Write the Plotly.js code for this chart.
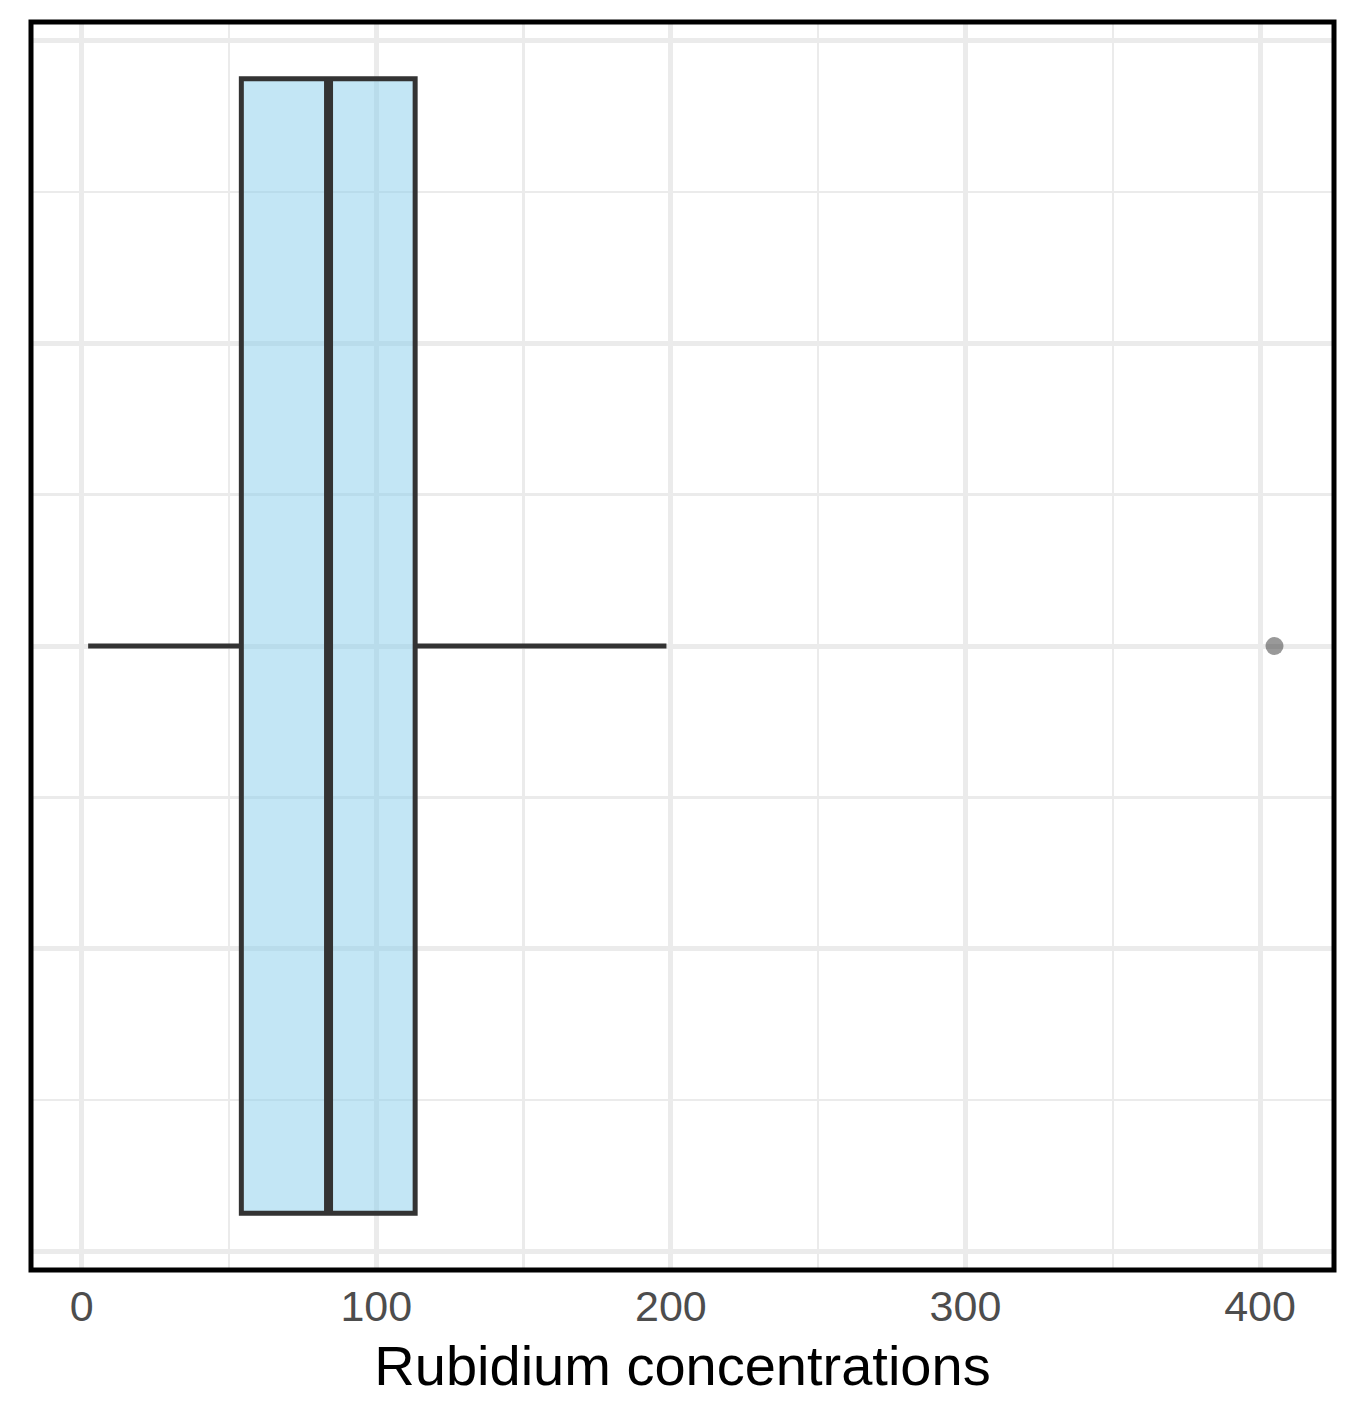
<!DOCTYPE html>
<html>
<head>
<meta charset="utf-8">
<script src="https://cdn.plot.ly/plotly-3.0.1.min.js"></script>
<style>
  html, body { margin: 0; padding: 0; background: #ffffff; }
  #chart { width: 1350px; height: 1402px; }
</style>
</head>
<body>
<div id="chart"></div>
<script>
// Summary statistics (Rubidium concentrations)
const groupPosition = [0];
const lowerWhisker = [2.2];
const q1Values = [54.2];
const medianValues = [83.8];
const q3Values = [113.2];
const upperWhisker = [198.5];
const outlierValues = [404.9];
const xTickValues = [0, 100, 200, 300, 400];
const xTickLabels = ["0", "100", "200", "300", "400"];
const boxWidth = 0.75;

const boxTrace = {
  type: 'box',
  orientation: 'h',
  y: groupPosition,
  q1: q1Values,
  median: medianValues,
  q3: q3Values,
  lowerfence: lowerWhisker,
  upperfence: upperWhisker,
  width: boxWidth,
  boxpoints: false,
  whiskerwidth: 0,
  fillcolor: 'rgba(135,206,235,0.5)',
  line: { color: '#333333', width: 5 },
  hoverinfo: 'skip',
  showlegend: false
};

const medianTrace = {
  type: 'scatter',
  mode: 'lines',
  x: [medianValues[0], medianValues[0]],
  y: [groupPosition[0] - boxWidth / 2, groupPosition[0] + boxWidth / 2],
  line: { color: '#333333', width: 9 },
  hoverinfo: 'skip',
  showlegend: false
};

const outlierTrace = {
  type: 'scatter',
  mode: 'markers',
  x: outlierValues,
  y: outlierValues.map(() => groupPosition[0]),
  marker: { color: 'rgba(51,51,51,0.5)', size: 18, line: { width: 0 } },
  hoverinfo: 'skip',
  showlegend: false
};

const layout = {
  width: 1350,
  height: 1402,
  margin: { l: 31, r: 16, t: 22, b: 132, pad: 0 },
  paper_bgcolor: '#ffffff',
  plot_bgcolor: '#ffffff',
  font: { family: 'Liberation Sans, Arial, sans-serif' },
  xaxis: {
    type: 'linear',
    range: [-17.2, 425.1],
    tickmode: 'array',
    tickvals: xTickValues,
    ticktext: xTickLabels,
    ticks: '',
    ticklabelstandoff: 7,
    showgrid: true,
    gridcolor: '#ebebeb',
    gridwidth: 5,
    zeroline: false,
    showline: false,
    tickfont: { size: 43, color: '#4d4d4d' },
    minor: { dtick: 50, tick0: 0, showgrid: true, gridcolor: '#ebebeb', gridwidth: 2.5, ticks: '' },
    title: { text: 'Rubidium concentrations', font: { size: 56, color: '#000000' }, standoff: 16 }
  },
  yaxis: {
    type: 'linear',
    range: [-0.4125, 0.4125],
    dtick: 0.2,
    tick0: 0,
    showticklabels: false,
    ticks: '',
    showgrid: true,
    gridcolor: '#ebebeb',
    gridwidth: 5,
    zeroline: false,
    showline: false,
    minor: { dtick: 0.1, tick0: 0, showgrid: true, gridcolor: '#ebebeb', gridwidth: 2.5, ticks: '' }
  },
  shapes: [{
    type: 'rect', xref: 'paper', yref: 'paper',
    x0: 0, x1: 1, y0: 0, y1: 1,
    line: { color: '#000000', width: 5 },
    fillcolor: 'rgba(0,0,0,0)',
    layer: 'above'
  }]
};

Plotly.newPlot('chart', [boxTrace, medianTrace, outlierTrace], layout, { displayModeBar: false, staticPlot: true });
</script>
</body>
</html>
